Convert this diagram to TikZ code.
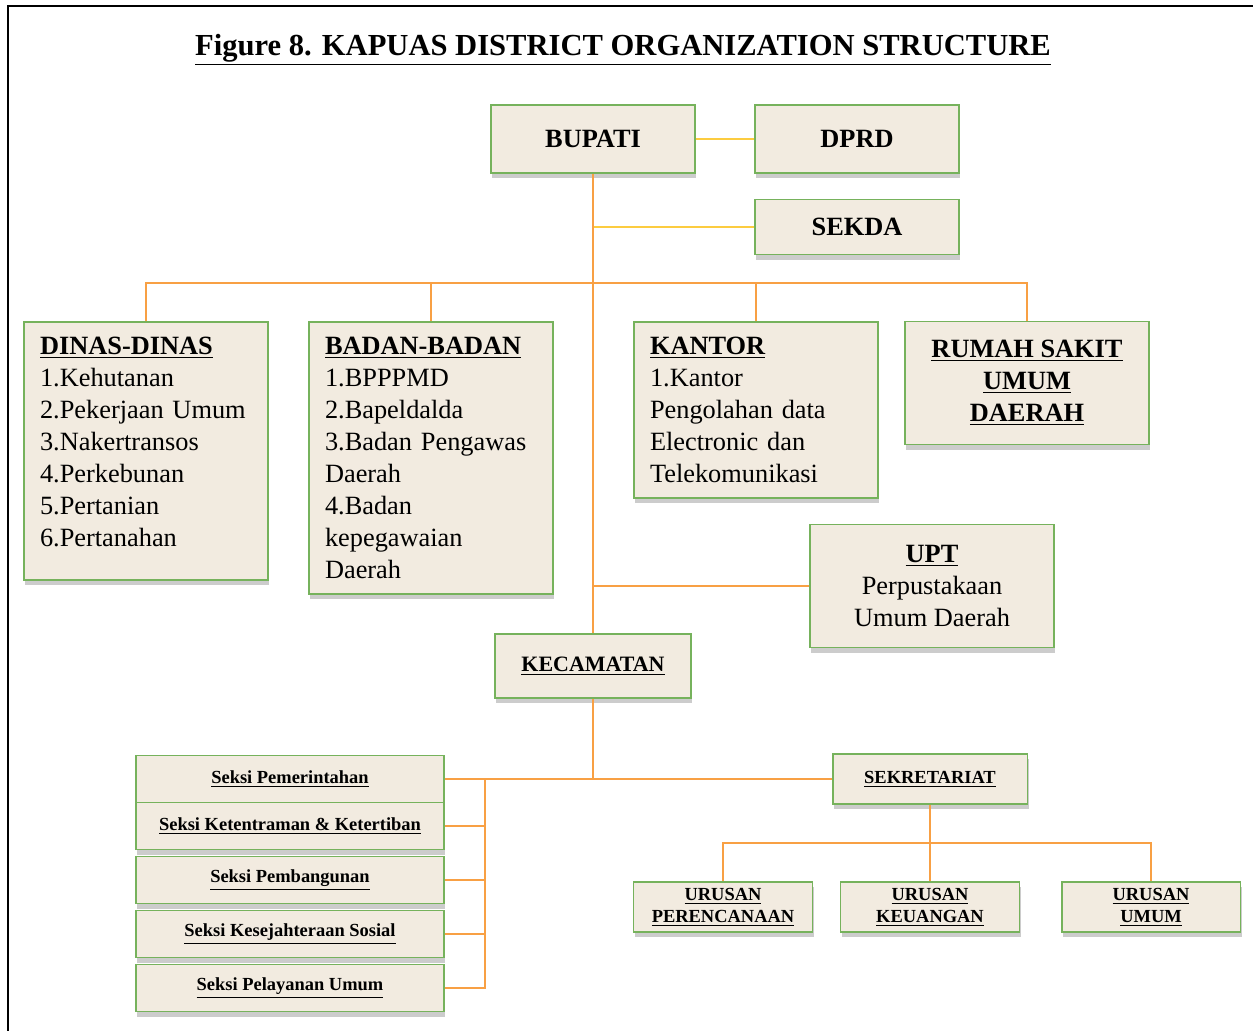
\documentclass[tikz,border=0pt]{standalone}
\usepackage{fontspec}
\setmainfont{Liberation Serif}
\usetikzlibrary{shadows}

\definecolor{boxfill}{RGB}{242,235,224}
\definecolor{boxline}{RGB}{118,178,92}
\definecolor{linkorange}{RGB}{248,160,68}
\definecolor{linkyellow}{RGB}{252,204,64}

\begin{document}
\begin{tikzpicture}[
  x=0.02cm, y=-0.02cm,
  box/.style={draw=boxline, line width=1.1pt, fill=boxfill, inner sep=0pt, align=center,
    drop shadow={shadow xshift=0.8pt, shadow yshift=-3pt, opacity=0.4}},
  big/.style={font=\fontsize{15}{18.2}\selectfont},
  head/.style={font=\fontsize{15}{18.2}\selectfont\bfseries},
  small/.style={font=\fontsize{10.5}{12.5}\selectfont\bfseries},
  listbox/.style={box, big, align=left, text width=4.24cm, inner xsep=0.32cm, minimum height=#1},
  unitbox/.style={box, big, minimum width=4.88cm, minimum height=#1},
  seksi/.style={box, small, minimum width=6.16cm, minimum height=0.94cm},
  urusan/.style={box, small, minimum width=3.58cm, minimum height=1cm},
  link/.style={draw=linkorange, line width=1.1pt},
  tie/.style={draw=linkyellow, line width=1.1pt}
]
\useasboundingbox (0,0) rectangle (1253,1031);
\draw[line width=1.2pt] (1253,6) -- (8,6) -- (8,1031);

\node[anchor=base, font=\fontsize{17.4}{20}\selectfont\bfseries] (title) at (623,55)
  {\underline{Figure 8. KAPUAS DISTRICT ORGANIZATION STRUCTURE}};

% top level
\node[box, head, minimum width=4.08cm, minimum height=1.36cm] (bupati) at (593,139) {BUPATI};
\node[box, head, minimum width=4.08cm, minimum height=1.36cm] (dprd) at (857,139) {DPRD};
\node[box, head, minimum width=4.08cm, minimum height=1.1cm] (sekda) at (857,227) {SEKDA};

% units
\node[listbox=5.16cm] (dinas) at (146,451)
  {\textbf{\underline{DINAS-DINAS}}\\1.Kehutanan\\2.Pekerjaan Umum\\3.Nakertransos\\4.Perkebunan\\5.Pertanian\\6.Pertanahan\\[-8pt]\mbox{}};
\node[listbox=5.44cm] (badan) at (431,458)
  {\textbf{\underline{BADAN-BADAN}}\\1.BPPPMD\\2.Bapeldalda\\3.Badan Pengawas\\Daerah\\4.Badan\\kepegawaian\\Daerah};
\node[listbox=3.52cm] (kantor) at (756,410)
  {\textbf{\underline{KANTOR}}\\1.Kantor\\Pengolahan data\\Electronic dan\\Telekomunikasi};
\node[unitbox=2.46cm, font=\fontsize{15}{18.2}\selectfont\bfseries] (rsud) at (1027,383)
  {\underline{RUMAH SAKIT}\\\underline{UMUM}\\\underline{DAERAH}};
\node[unitbox=2.46cm] (upt) at (932,586)
  {\textbf{\underline{UPT}}\\Perpustakaan\\Umum Daerah};

% kecamatan
\node[box, font=\fontsize{12.5}{15}\selectfont\bfseries, minimum width=3.92cm, minimum height=1.28cm] (kec) at (593,666)
  {\underline{KECAMATAN}};
\node[box, small, minimum width=3.9cm, minimum height=1cm] (sekret) at (930,779)
  {\underline{SEKRETARIAT}};
\foreach \name/\y/\txt in {pemerintahan/779/Seksi Pemerintahan,
    trantib/826/Seksi Ketentraman \& Ketertiban,
    pembangunan/880/Seksi Pembangunan,
    kesos/934/Seksi Kesejahteraan Sosial,
    pelayanan/988/Seksi Pelayanan Umum}
  \node[seksi] (\name) at (290,\y) {\underline{\txt}};
\node[urusan] (urplan) at (723,907) {\underline{URUSAN}\\\underline{PERENCANAAN}};
\node[urusan] (urkeu) at (930,907) {\underline{URUSAN}\\\underline{KEUANGAN}};
\node[urusan] (urumum) at (1151,907) {\underline{URUSAN}\\\underline{UMUM}};

% connectors
\coordinate (bus) at (593,283);
\coordinate (brk) at (485,779);
\coordinate (urbus) at (930,843);
\draw[tie] (bupati) -- (dprd);
\draw[tie] (sekda.west) -- (sekda.west -| bupati.south);
\draw[link] (bupati.south) -- (kec.north);
\draw[link] (dinas.north) |- (bus) -| (rsud.north);
\draw[link] (badan.north) -- (badan.north |- bus);
\draw[link] (kantor.north) -- (kantor.north |- bus);
\draw[link] (upt.west) -- (upt.west -| bupati.south);
\draw[link] (kec.south) -- (kec.south |- sekret.west);
\draw[link] (pemerintahan.east) -- (sekret.west);
\draw[link] (brk) |- (pelayanan.east);
\foreach \name in {trantib,pembangunan,kesos}
  \draw[link] (\name.east) -- (\name.east -| brk);
\draw[link] (sekret.south) -- (urkeu.north);
\draw[link] (urplan.north) |- (urbus) -| (urumum.north);
\end{tikzpicture}
\end{document}
